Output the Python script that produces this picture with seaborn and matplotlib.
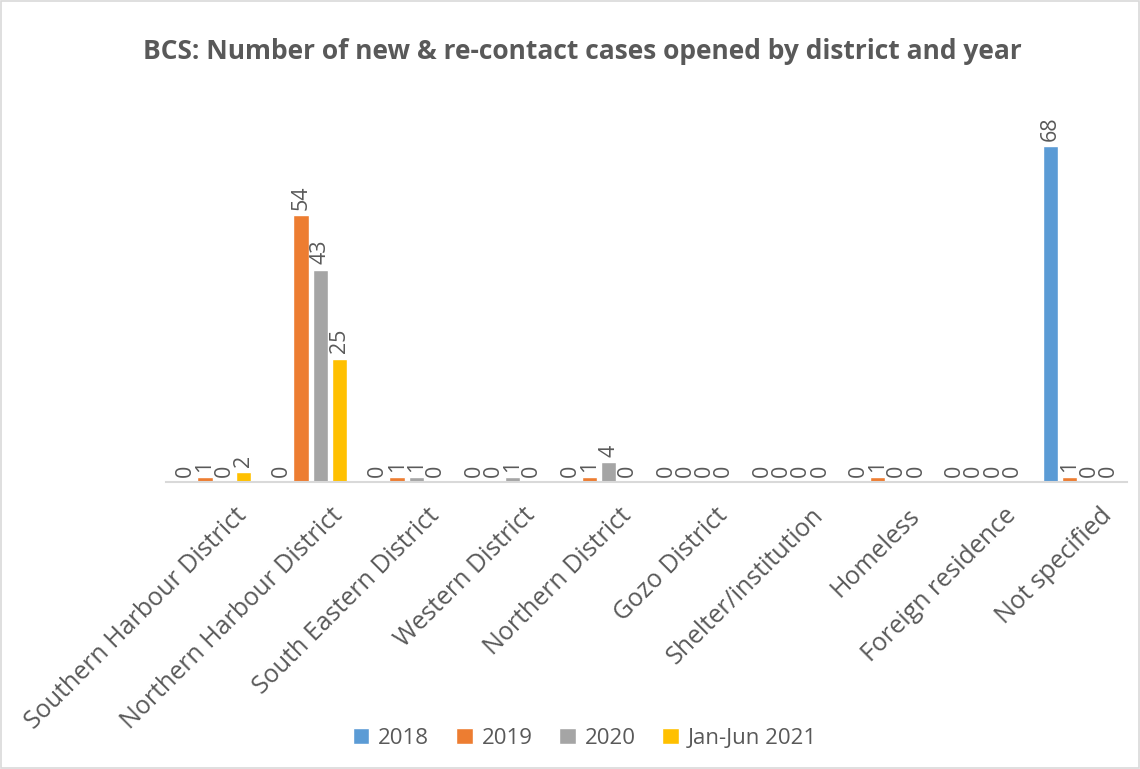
import numpy as np
import pandas as pd
import seaborn as sns
import matplotlib.pyplot as plt
import matplotlib.transforms as mtransforms
from matplotlib.patches import Rectangle

districts = ['Southern Harbour District', 'Northern Harbour District', 'South Eastern District',
             'Western District', 'Northern District', 'Gozo District', 'Shelter/institution',
             'Homeless', 'Foreign residence', 'Not specified']
periods = ['2018', '2019', '2020', 'Jan-Jun 2021']
cases_2018 = [0, 0, 0, 0, 0, 0, 0, 0, 0, 68]
cases_2019 = [1, 54, 1, 0, 1, 0, 0, 1, 0, 1]
cases_2020 = [0, 43, 1, 1, 4, 0, 0, 0, 0, 0]
cases_2021 = [2, 25, 0, 0, 0, 0, 0, 0, 0, 0]
colors = ['#5B9BD5', '#ED7D31', '#A5A5A5', '#FFC000']

df = pd.DataFrame({'district': districts * 4,
                   'period': np.repeat(periods, len(districts)),
                   'cases': cases_2018 + cases_2019 + cases_2020 + cases_2021})

sns.set_theme(style='white')
plt.rcParams['font.family'] = ['Open Sans', 'DejaVu Sans']
text_col = '#595959'

fig = plt.figure(figsize=(11.4, 7.69), dpi=100)
ax = fig.add_axes([0.146, 0.373, 0.843, 0.514])
sns.barplot(data=df, x='district', y='cases', hue='period', palette=colors,
            saturation=1, width=0.8, gap=0.2, ax=ax, legend=True)

for cont in ax.containers:
    ax.bar_label(cont, rotation=90, padding=4, fontsize=15.5, color=text_col)

ax.set_ylim(0, 80)
ax.set_xlim(-0.5, len(districts) - 0.5)
ax.set_xlabel('')
ax.set_ylabel('')
ax.set_yticks([])
for s in ['top', 'right', 'left']:
    ax.spines[s].set_visible(False)
ax.spines['bottom'].set_color('#d9d9d9')
ax.spines['bottom'].set_linewidth(1.5)
ax.tick_params(axis='x', length=0, pad=15)
offset = mtransforms.ScaledTranslation(0.2, 0, fig.dpi_scale_trans)
for lab in ax.get_xticklabels():
    lab.set_rotation(45)
    lab.set_ha('right')
    lab.set_va('top')
    lab.set_rotation_mode('anchor')
    lab.set_fontsize(18)
    lab.set_color(text_col)
    lab.set_transform(lab.get_transform() + offset)

handles, labels = ax.get_legend_handles_labels()
ax.get_legend().remove()
fig.legend(handles, labels, loc='center', bbox_to_anchor=(0.513, 0.04), ncol=4, frameon=False,
           fontsize=16, labelcolor=text_col, handlelength=0.75, handleheight=0.75,
           handletextpad=0.4, columnspacing=1.2)

fig.suptitle('BCS: Number of new & re-contact cases opened by district and year',
             x=0.511, y=0.95, fontsize=19, fontweight='bold', color=text_col)

fig.patches.append(Rectangle((0.001, 0.001), 0.998, 0.998, transform=fig.transFigure,
                             fill=False, edgecolor='#d9d9d9', linewidth=1.2))

fig.savefig('out.png', dpi=100)
